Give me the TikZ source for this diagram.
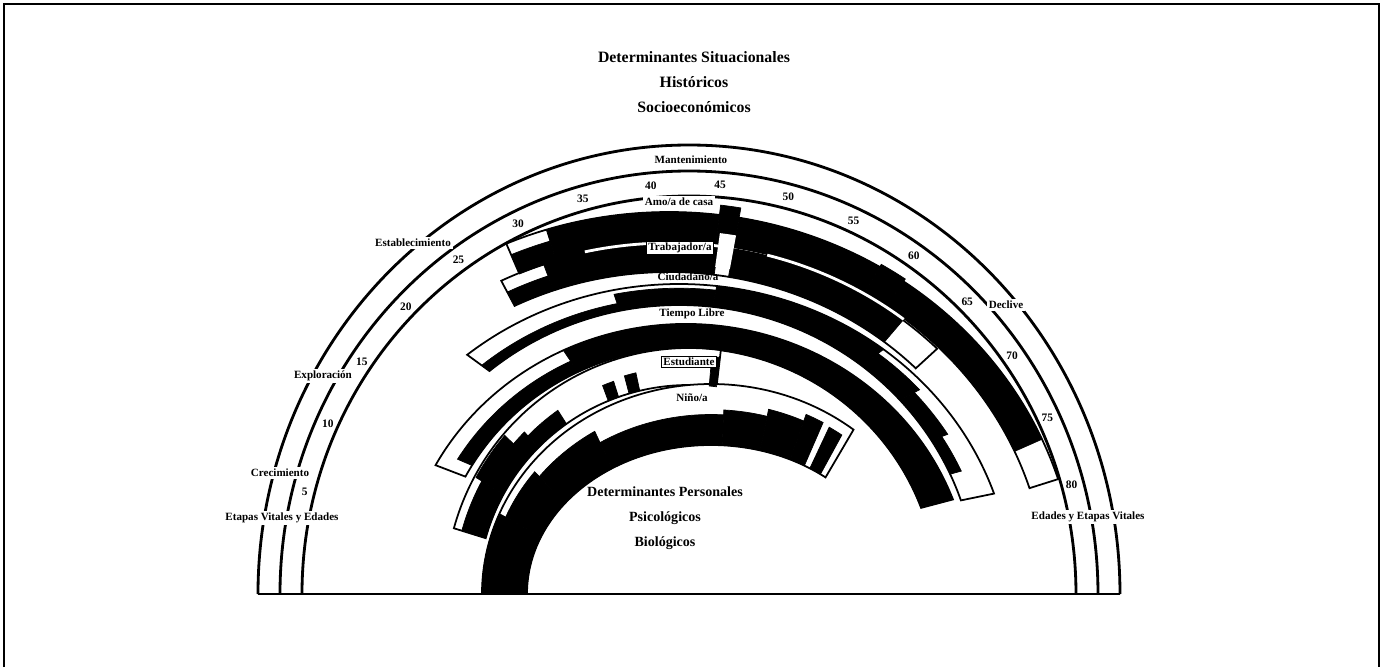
\documentclass[tikz,border=0pt]{standalone}
\usepackage{fontspec}
\setmainfont{Liberation Serif}
\newcommand{\ringseg}[7]{%
  ({175.5-2*(#5)}:{#1} and {#2})
  arc[start angle={175.5-2*(#5)}, end angle={175.5-2*(#6)}, x radius={#1}, y radius={#2}]
  -- ({175.5-2*(#6)}:{#1+(#7)*(#3-#1)} and {#2+(#7)*(#4-#2)})
  arc[start angle={175.5-2*(#6)}, end angle={175.5-2*(#5)}, x radius={#1+(#7)*(#3-#1)}, y radius={#2+(#7)*(#4-#2)}]
  -- cycle}
\begin{document}
\begin{tikzpicture}[x=0.02cm,y=0.02cm,
  scalearc/.style={line width=1.6pt},
  band/.style={draw,fill=white,line width=1pt},
  ink/.style={fill=black,draw=black,line width=0.4pt},
  hw/.style={shift={(-20,0)}},
  cz/.style={shift={(-10,0)}},
  lt/.style={shift={(-3,0)}},
  nn/.style={shift={(22,0)}},
  stagelbl/.style={font=\bfseries\fontsize{6.3}{7}\selectfont,fill=white,inner sep=1pt},
  rolelbl/.style={font=\bfseries\fontsize{6.3}{7}\selectfont,inner sep=1pt},
  agenum/.style={font=\bfseries\fontsize{6.5}{7}\selectfont,inner sep=0.5pt}]
  \useasboundingbox (-689,-73) rectangle (694,594);
  \draw[line width=0.8pt] (-685,-73) -- (-685,590) -- (690,590) -- (690,-73);
  \draw[line width=1.2pt] (-431,0) -- (431,0);
  \draw[scalearc] (-431,0) arc[start angle=180,end angle=0,x radius=431,y radius=449];
  \draw[scalearc] (-409,0) arc[start angle=180,end angle=0,x radius=409,y radius=423];
  \draw[scalearc] (-387,0) arc[start angle=180,end angle=0,x radius=387,y radius=398];
  \draw[band,hw] \ringseg{378}{352}{408}{382}{31}{79}{1};
  \draw[band,hw] \ringseg{346}{322}{376}{350}{29.5}{65.5}{1};
  \draw[band,cz] \ringseg{298}{289}{333}{310}{23}{78.3}{1};
  \draw[band,lt] \ringseg{251}{246}{285}{270}{12}{77.5}{1};
  \draw[band] \ringseg{211}{209}{244}{246}{5.5}{46.5}{1};
  \draw[band,nn] \ringseg{184}{149}{229}{210}{-2.25}{62}{1};
  \foreach \a/\b/\f in {31/34/0.6, 34/46.3/1, 46.3/47.7/1.33, 47.7/58.3/1, 58.3/60.3/1.1, 60.3/75.8/1}
    \filldraw[ink,hw] \ringseg{378}{352}{408}{382}{\a}{\b}{\f};
  \foreach \a/\b/\f in {29.5/33/0.55, 33/46.5/1, 47.7/62/1}
    \filldraw[ink,hw] \ringseg{346}{322}{376}{350}{\a}{\b}{\f};
  \filldraw[ink,hw] \ringseg{375}{349}{379}{353}{31}{36.3}{1};
  \foreach \a/\b/\f in {23/37/0.35, 37/46/0.8, 46/61.7/1, 61.7/66.7/0.75, 66.7/71.7/0.55, 71.7/75.5/0.35}
    \filldraw[ink,cz] \ringseg{298}{289}{333}{310}{\a}{\b}{\f};
  \foreach \a/\b/\f in {13.5/30/0.5, 30/77.5/1}
    \filldraw[ink,lt] \ringseg{251}{246}{285}{270}{\a}{\b}{\f};
  \foreach \a/\b/\f in {5.5/12/0.75, 12/18/0.95, 18/20/0.6, 20/25/0.45, 31.5/33/0.45, 34.5/36/0.5, 45.5/46.5/0.8}
    \filldraw[ink] \ringseg{211}{209}{244}{246}{\a}{\b}{\f};
  \foreach \a/\b/\f in {-2.25/9/1, 9/16.5/0.85, 16.5/26.5/0.72, 26.5/44.5/0.5, 44.5/50.5/0.58, 50.5/55.5/0.7, 55.5/58/0.82, 59/61/0.8}
    \filldraw[ink,nn] \ringseg{184}{149}{229}{210}{\a}{\b}{\f};
  \draw[white,line width=1.6pt,hw] ({175.5-2*36.3}:377 and 351) arc[start angle={175.5-2*36.3},end angle={175.5-2*46.5},x radius=377,y radius=351];
  \draw[white,line width=1.6pt,hw] ({175.5-2*50.3}:377 and 351) arc[start angle={175.5-2*50.3},end angle={175.5-2*62},x radius=377,y radius=351];
  \fill[white,hw] \ringseg{354}{330}{390}{364}{46.5}{47.7}{1};
  \node[font=\bfseries\fontsize{9}{14.2}\selectfont,align=center] (sit) at (5,512) {Determinantes Situacionales\\Históricos\\Socioeconómicos};
  \node[font=\bfseries\fontsize{8}{14.2}\selectfont,align=center] (pers) at (-24,76) {Determinantes Personales\\Psicológicos\\Biológicos};
  \node[stagelbl] (mant) at (2,434) {Mantenimiento};
  \node[stagelbl] (esta) at (-276,351) {Establecimiento};
  \node[stagelbl] (expl) at (-366,218) {Exploración};
  \node[stagelbl] (crec) at (-409,121) {Crecimiento};
  \node[stagelbl] (etapas) at (-407,76) {Etapas Vitales y Edades};
  \node[stagelbl] (decl) at (317,289) {Declive};
  \node[stagelbl] (edades) at (399,77) {Edades y Etapas Vitales};
  \foreach \a in {5,10,...,80}
    \node[agenum] (age\a) at ({175.5-2*\a}:397 and 410) {\a};
  \node[rolelbl,fill=white] (amo) at (-10,392) {Amo/a de casa};
  \node[rolelbl,draw,fill=white,line width=0.8pt] (trab) at (-9,346) {Trabajador/a};
  \node[rolelbl] (ciud) at (-1,317) {Ciudadano/a};
  \node[rolelbl] (libre) at (3,280) {Tiempo Libre};
  \node[rolelbl,draw,fill=white,line width=0.8pt] (estu) at (0,232) {Estudiante};
  \node[rolelbl] (nino) at (3,196) {Niño/a};
\end{tikzpicture}
\end{document}
